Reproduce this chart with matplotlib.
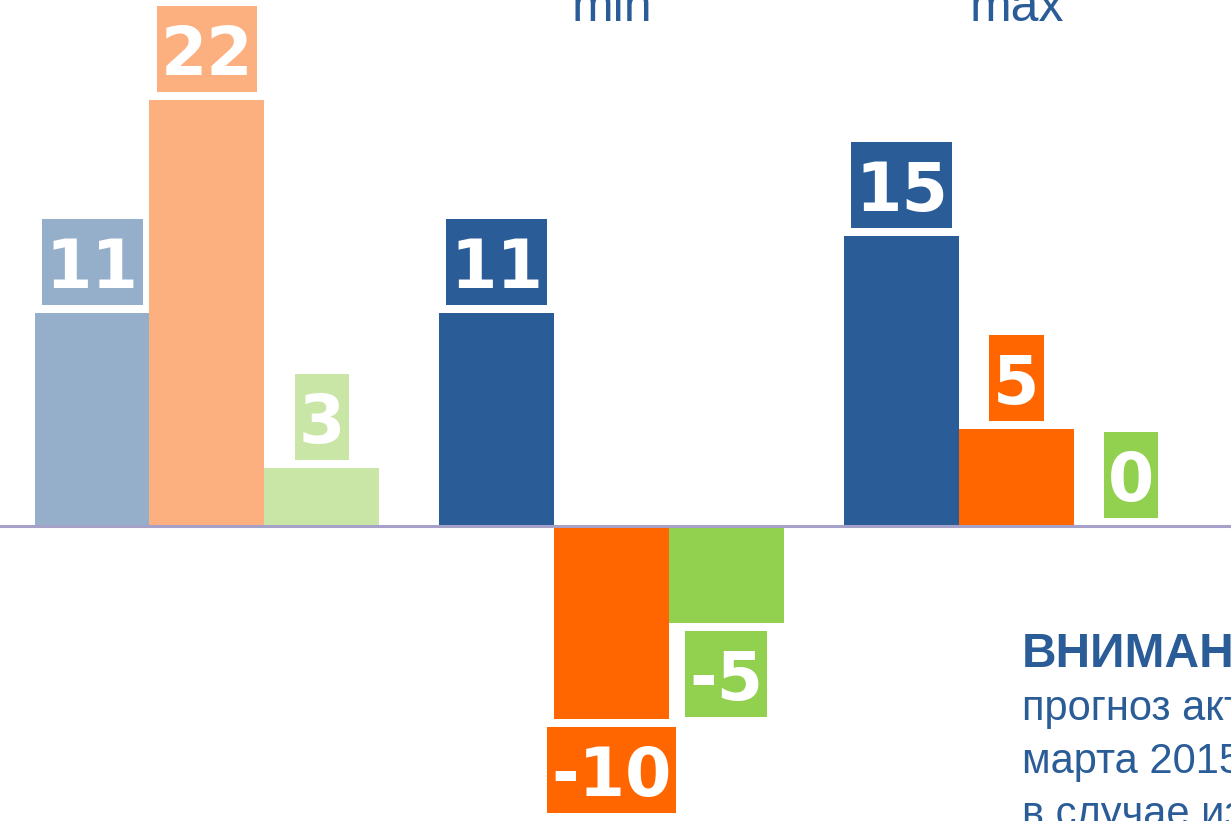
import numpy as np
import matplotlib
matplotlib.use("Agg")
from matplotlib import pyplot as plt
from matplotlib import patches, transforms

groups = ["", "min", "max"]
blue_vals = [11, 11, 15]
orange_vals = [22, -10, 5]
green_vals = [3, -5, 0]

# first group is drawn in faded tones
blue_cols = ['#95AFCB', '#2A5C97', '#2A5C97']
orange_cols = ['#FDB07F', '#FF6600', '#FF6600']
green_cols = ['#C9E6A7', '#92D050', '#92D050']

note_title = "ВНИМАНИЕ!"
note_lines = ["прогноз актуален на 10", "марта 2015 г.", "в случае изменения"]

text_blue = '#2A5C97'

fig = plt.figure(figsize=(12.31, 8.21), dpi=100)
ax = fig.add_axes([0, 0, 1, 1])
ax.set_xlim(-0.511, 2.530)
ax.set_ylim(-15.25, 27.18)
ax.axis('off')

x = np.arange(len(groups))
width = 0.2836
series = [(blue_vals, blue_cols), (orange_vals, orange_cols), (green_vals, green_cols)]

for k, (vals, cols) in enumerate(series):
  ax.bar(x + (k - 1) * width, vals, width, color=cols, linewidth=0, zorder=2)

ax.axhline(0, color='#A6A1C9', lw=2.2, zorder=5)

# value labels: white bold numbers on a box of the bar colour
renderer = fig.canvas.get_renderer()
ident = transforms.IdentityTransform()
box_h = 86
gap = 8
for k, (vals, cols) in enumerate(series):
  for i, v in enumerate(vals):
    cx, cy = ax.transData.transform((x[i] + (k - 1) * width, v))
    if v >= 0:
      bottom = cy + gap
    else:
      bottom = cy - gap - box_h
    t = ax.text(cx, bottom + 17, str(v), transform=ident, ha='center', va='baseline',
                fontsize=48, fontweight='bold', color='white', family='DejaVu Sans', zorder=7)
    bw = t.get_window_extent(renderer).width + 8
    ax.add_patch(patches.Rectangle((cx - bw / 2, bottom), bw, box_h, transform=ident,
                                   facecolor=cols[i], linewidth=0, zorder=6))

for i, g in enumerate(groups):
  ax.text(x[i], 1 - 21 / 821, g, transform=ax.get_xaxis_transform(), ha='center', va='baseline',
          fontsize=36, family='Liberation Sans', color=text_blue)

fig.text(1022 / 1231, 1 - 667 / 821, note_title, ha='left', va='baseline', fontsize=34.5,
         fontweight='bold', family='Liberation Sans', color=text_blue)
for j, line in enumerate(note_lines):
  fig.text(1022 / 1231, 1 - (720 + 53 * j) / 821, line, ha='left', va='baseline', fontsize=30,
           family='Liberation Sans', color=text_blue)

fig.savefig("out.png", dpi=100)
